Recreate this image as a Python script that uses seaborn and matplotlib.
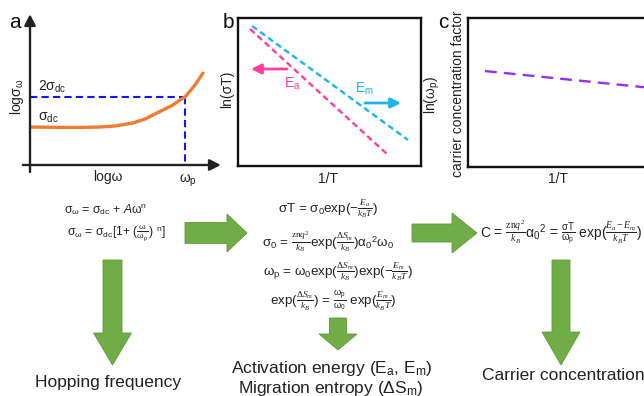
import matplotlib
matplotlib.use("Agg")
import numpy as np
import pandas as pd
import seaborn as sns
import matplotlib.pyplot as plt
from matplotlib.patches import FancyArrow

# ---------------- data ----------------
# panel a: log(sigma_omega) vs log(omega)
a_logw = [0.0, 1.67, 2.78, 3.89, 4.72, 5.72, 6.39, 7.06, 7.5, 7.94, 8.33, 8.61, 8.89, 9.17, 9.39, 9.61]
a_logsig = [2.62, 2.59, 2.59, 2.62, 2.69, 2.90, 3.17, 3.59, 3.86, 4.14, 4.48, 4.69, 5.10, 5.52, 5.93, 6.34]
a_wp = 8.61          # omega_p position on log(omega)
a_2sdc = 4.69        # 2*sigma_dc level
# panel b: ln(sigma T) vs 1/T
b_Ea_x = [0.66, 8.20]
b_Ea_y = [9.26, 0.74]
b_Em_x = [0.77, 9.29]
b_Em_y = [9.46, 1.76]
# panel c: ln(omega_p) vs 1/T
c_x = [0.85, 9.50]
c_y = [6.44, 5.26]

ORANGE = "#EE7D31"
BLUE = "#1515F0"
PINK = "#FF3D9E"
CYAN = "#1BB3EC"
PURPLE = "#9530F5"
GREEN = "#70AD47"
TXT = "#222222"

sns.set_theme(style="white")
plt.rcParams["font.family"] = ["Liberation Sans", "DejaVu Sans"]
plt.rcParams.update({
    "mathtext.fontset": "custom",
    "mathtext.rm": "Liberation Serif",
    "mathtext.it": "Liberation Serif:italic",
    "mathtext.sf": "Liberation Sans",
    "mathtext.bf": "Liberation Sans:italic",
})

W, H = 644, 396
fig = plt.figure(figsize=(W / 100, H / 100), dpi=100)


def px_axes(l, t, r, b):
    return fig.add_axes([l / W, 1 - b / H, (r - l) / W, (b - t) / H])


# ---------------- panel a ----------------
axA = px_axes(30, 20, 210, 165)
axA.set_xlim(0, 10)
axA.set_ylim(0, 10)
axA.axis("off")
sns.lineplot(x=[0, a_wp], y=[a_2sdc, a_2sdc], ax=axA, color=BLUE, lw=1.5,
             linestyle=(0, (3.5, 2)), estimator=None, sort=False)
sns.lineplot(x=[a_wp, a_wp], y=[a_2sdc, 0], ax=axA, color=BLUE, lw=1.5,
             linestyle=(0, (3.5, 2)), estimator=None, sort=False)
sns.lineplot(x=a_logw, y=a_logsig, ax=axA, color=ORANGE, lw=2.4,
             estimator=None, sort=False)
arrow_kw = dict(arrowstyle="-|>,head_length=0.55,head_width=0.28", lw=1.7,
                color=TXT, shrinkA=0, shrinkB=0)
axA.annotate("", xy=(0, 10.4), xytext=(0, -0.48), arrowprops=arrow_kw,
             annotation_clip=False)
axA.annotate("", xy=(10.6, 0), xytext=(-0.4, 0), arrowprops=arrow_kw,
             annotation_clip=False)

# ---------------- panel b ----------------
axB = px_axes(238, 18, 421, 166)
axB.set_xlim(0, 10)
axB.set_ylim(0, 10)
sns.lineplot(x=b_Ea_x, y=b_Ea_y, ax=axB, color=PINK, lw=1.7,
             linestyle=(0, (2.6, 1.6)), estimator=None, sort=False)
sns.lineplot(x=b_Em_x, y=b_Em_y, ax=axB, color=CYAN, lw=1.7,
             linestyle=(0, (2.6, 1.6)), estimator=None, sort=False)

# ---------------- panel c ----------------
axC = px_axes(468, 18, 668, 167)
axC.set_xlim(0, 10)
axC.set_ylim(0, 10)
sns.lineplot(x=c_x, y=c_y, ax=axC, color=PURPLE, lw=1.7,
             linestyle=(0, (5, 3)), estimator=None, sort=False)

for ax in (axB, axC):
    ax.set_xticks([])
    ax.set_yticks([])
    ax.set_xlabel("")
    ax.set_ylabel("")
    for s in ax.spines.values():
        s.set_visible(True)
        s.set_color("#111111")
        s.set_linewidth(1.7)

# ---------------- overlay (pixel coordinates) ----------------
ov = fig.add_axes([0, 0, 1, 1])
ov.set_xlim(0, W)
ov.set_ylim(H, 0)
ov.axis("off")


def t(x, y, s, size=10, color=TXT, **kw):
    kw.setdefault("ha", "center")
    kw.setdefault("va", "center")
    ov.text(x, y, s, fontsize=size, color=color, **kw)


# panel a texts
t(15, 23, "a", 15, "#111111")
t(17, 97, r"logσ$_\mathsf{ω}$", 10, rotation=90)
t(38, 87, r"2σ$_\mathsf{dc}$", 10, ha="left")
t(38, 118, r"σ$_\mathsf{dc}$", 10, ha="left")
t(108, 177, "logω", 10)
t(188, 180, r"ω$_\mathsf{p}$", 10)

# panel b texts
t(228, 22, "b", 15, "#111111")
t(227, 89, "ln(σT)", 10, rotation=90)
t(292, 84, r"E$_\mathsf{a}$", 10, PINK)
t(364, 89, r"E$_\mathsf{m}$", 10, CYAN)
t(328, 179, "1/T", 10)
ov.annotate("", xy=(251, 69), xytext=(287, 69),
            arrowprops=dict(arrowstyle="-|>,head_length=0.5,head_width=0.25",
                            lw=2, color=PINK, shrinkA=0, shrinkB=0))
ov.annotate("", xy=(401, 103), xytext=(365, 103),
            arrowprops=dict(arrowstyle="-|>,head_length=0.5,head_width=0.25",
                            lw=2, color=CYAN, shrinkA=0, shrinkB=0))

# panel c texts
t(443, 23, "c", 15, "#111111")
t(433, 95, r"ln(ω$_\mathsf{p}$)", 10, rotation=90)
t(458, 94, "carrier concentration factor", 10, rotation=90)
t(558, 179, "1/T", 10)

# equations
EQ = 8.7
EQM = 9.6
t(105, 210, r"σ$_\mathsf{ω}$ = σ$_\mathsf{dc}$ + $\mathbf{A}$ω$^\mathsf{n}$", EQ)
t(116, 233, r"σ$_\mathsf{ω}$ = σ$_\mathsf{dc}$[1+ ($\frac{\mathsf{ω}}{\mathsf{ω}_\mathsf{p}}$) $^\mathsf{n}$]", EQ)

t(328, 209, r"σT = σ$_\mathsf{0}$exp(−$\frac{E_a}{k_BT}$)", EQM)
t(328, 242, r"σ$_\mathsf{0}$ = $\frac{\mathrm{zn}q^2}{k_B}$exp($\frac{\Delta S_m}{k_B}$)α$_\mathsf{0}{}^\mathsf{2}$ω$_\mathsf{0}$", EQM)
t(338, 272, r"ω$_\mathsf{p}$ = ω$_\mathsf{0}$exp($\frac{\Delta S_m}{k_B}$)exp(−$\frac{E_m}{k_BT}$)", EQM)
t(333, 301, r"exp($\frac{\Delta S_m}{k_B}$) = $\frac{\mathsf{ω}_\mathsf{p}}{\mathsf{ω}_\mathsf{0}}$ exp($\frac{E_m}{k_BT}$)", EQM)

t(480, 233, r"C = $\frac{\mathrm{zn}q^2}{k_B}$α$_\mathsf{0}{}^\mathsf{2}$ = $\frac{\mathsf{σT}}{\mathsf{ω}_\mathsf{p}}$ exp($\frac{E_a - E_m}{k_BT}$)", 10, ha="left")

# bottom labels
t(108, 383, "Hopping frequency", 12.5)
t(332, 369, r"Activation energy (E$_\mathsf{a}$, E$_\mathsf{m}$)", 12.5)
t(331, 388, r"Migration entropy (ΔS$_\mathsf{m}$)", 12.5)
t(563, 376, "Carrier concentration", 12.5)

# green flow arrows


def garrow(x, y, dx, dy, w, hw, hl):
    ov.add_patch(FancyArrow(x, y, dx, dy, width=w, head_width=hw, head_length=hl,
                            length_includes_head=True, facecolor=GREEN,
                            edgecolor="#5F9A3B", lw=0.6))


garrow(185, 233, 62, 0, 21, 38, 20)
garrow(412, 233, 65, 0, 18, 40, 25)
garrow(112.5, 260, 0, 105, 19, 38, 32)
garrow(338, 318, 0, 32, 17, 38, 16)
garrow(561, 260, 0, 105, 18, 38, 33)

fig.savefig("out.png", dpi=100)
